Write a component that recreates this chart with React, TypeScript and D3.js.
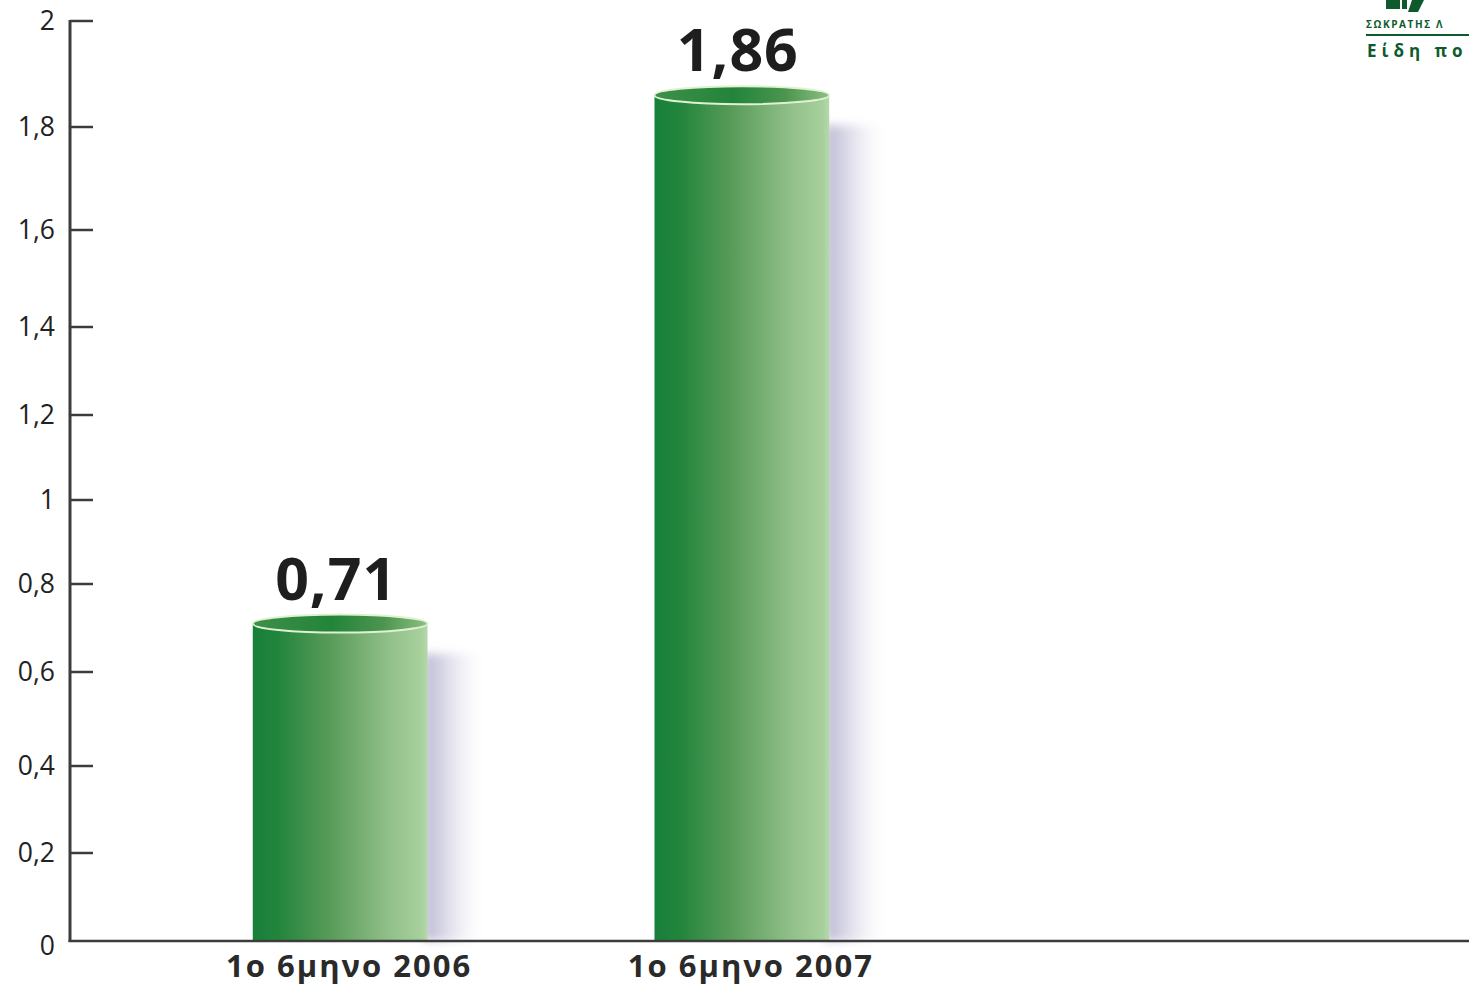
import React from "react";
import * as d3 from "d3";

const categories = ["1ο 6μηνο 2006", "1ο 6μηνο 2007"];
const values = [0.71, 1.86];
const valueLabels = ["0,71", "1,86"];
const yTicks = [0, 0.2, 0.4, 0.6, 0.8, 1, 1.2, 1.4, 1.6, 1.8, 2];
const yTickLabels = ["0", "0,2", "0,4", "0,6", "0,8", "1", "1,2", "1,4", "1,6", "1,8", "2"];

export default function App() {
  const W = 1469;
  const H = 987;
  const axisX = 70;
  const baseY = 941;
  // measured tick pixel positions of the (slightly uneven) printed axis
  const tickPx = [941, 853, 766, 672, 584, 500, 415, 327, 230, 127, 21];
  const y = d3.scaleLinear().domain(yTicks).range(tickPx);
  const x = d3
    .scaleBand<string>()
    .domain(categories)
    .range([72, 1010])
    .paddingInner(0.565)
    .paddingOuter(0.45);
  const bw = x.bandwidth();
  const ry = 9;
  const font = "'Open Sans', 'Noto Sans', sans-serif";

  return (
    <svg
      width={W}
      height={H}
      style={{ position: "absolute", left: 0, top: 0, background: "#fff" }}
    >
      <defs>
        <linearGradient id="barGrad" x1="0" x2="1" y1="0" y2="0">
          <stop offset="0" stopColor="#17803a" />
          <stop offset="0.15" stopColor="#23853c" />
          <stop offset="0.45" stopColor="#5a9c5a" />
          <stop offset="0.8" stopColor="#94c28c" />
          <stop offset="0.96" stopColor="#a6cf9c" />
          <stop offset="1" stopColor="#b5d8ac" />
        </linearGradient>
        <linearGradient id="topGrad" x1="0" x2="1" y1="0" y2="0">
          <stop offset="0" stopColor="#3f8f4a" />
          <stop offset="0.45" stopColor="#22843a" />
          <stop offset="0.75" stopColor="#4c9550" />
          <stop offset="1" stopColor="#8cc083" />
        </linearGradient>
        <linearGradient id="shadowGrad" x1="0" x2="1" y1="0" y2="0">
          <stop offset="0" stopColor="#b9b7cf" stopOpacity="1" />
          <stop offset="0.3" stopColor="#cfcde0" stopOpacity="0.85" />
          <stop offset="0.65" stopColor="#e6e5ef" stopOpacity="0.5" />
          <stop offset="1" stopColor="#ffffff" stopOpacity="0" />
        </linearGradient>
        <filter id="blur" x="-50%" y="-50%" width="200%" height="200%">
          <feGaussianBlur stdDeviation="5" />
        </filter>
      </defs>

      {/* bars */}
      {categories.map((c, i) => {
        const x0 = x(c)!;
        const top = y(values[i]);
        const shadowTop = top + 30;
        return (
          <g key={c}>
            <rect
              x={x0 + bw - 4}
              y={shadowTop}
              width={62}
              height={baseY - shadowTop}
              fill="url(#shadowGrad)"
              filter="url(#blur)"
            />
            <rect x={x0} y={top} width={bw} height={baseY - top} fill="url(#barGrad)" />
            <ellipse
              cx={x0 + bw / 2}
              cy={top}
              rx={bw / 2}
              ry={ry}
              fill="url(#topGrad)"
              stroke="#dff2cf"
              strokeWidth={2}
            />
            <text
              x={x0 + bw / 2 - 4}
              y={top - 24}
              textAnchor="middle"
              fontFamily={font}
              fontWeight={700}
              fontSize={59}
              letterSpacing={1}
              fill="#1e1e1e"
            >
              {valueLabels[i]}
            </text>
            <text
              x={x0 + bw / 2 + 9}
              y={977}
              textAnchor="middle"
              fontFamily={font}
              fontWeight={700}
              fontSize={31}
              letterSpacing={2}
              fill="#2a2a2a"
            >
              {c}
            </text>
          </g>
        );
      })}

      {/* y axis */}
      <line x1={axisX} x2={axisX} y1={y(2) - 1} y2={baseY + 1} stroke="#3c3c3c" strokeWidth={3} />
      <line x1={axisX - 1.5} x2={W} y1={baseY} y2={baseY} stroke="#3c3c3c" strokeWidth={2.5} />
      {yTicks.map((t, i) => (
        <g key={t}>
          {t !== 0 && (
            <line x1={axisX} x2={93} y1={y(t)} y2={y(t)} stroke="#3c3c3c" strokeWidth={2.5} />
          )}
          <text
            x={55}
            y={y(t) + (t === 0 ? 14 : 9)}
            textAnchor="end"
            fontFamily={font}
            fontSize={26.5}
            fill="#222"
          >
            {yTickLabels[i]}
          </text>
        </g>
      ))}

      {/* logo fragment */}
      <g fill="#0e5a2c">
        <rect x={1386} y={0} width={14} height={9} />
        <rect x={1402} y={0} width={5} height={9} />
        <polygon points="1412,0 1424,0 1418,12 1408,12" />
        <text x={1366} y={28} fontFamily={font} fontWeight={700} fontSize={10} letterSpacing={1.6}>
          ΣΩΚΡΑΤΗΣ Λ
        </text>
        <rect x={1366} y={34} width={103} height={2} />
        <text x={1367} y={57} fontFamily={font} fontWeight={700} fontSize={17} letterSpacing={5}>
          Είδη πο
        </text>
      </g>
    </svg>
  );
}
